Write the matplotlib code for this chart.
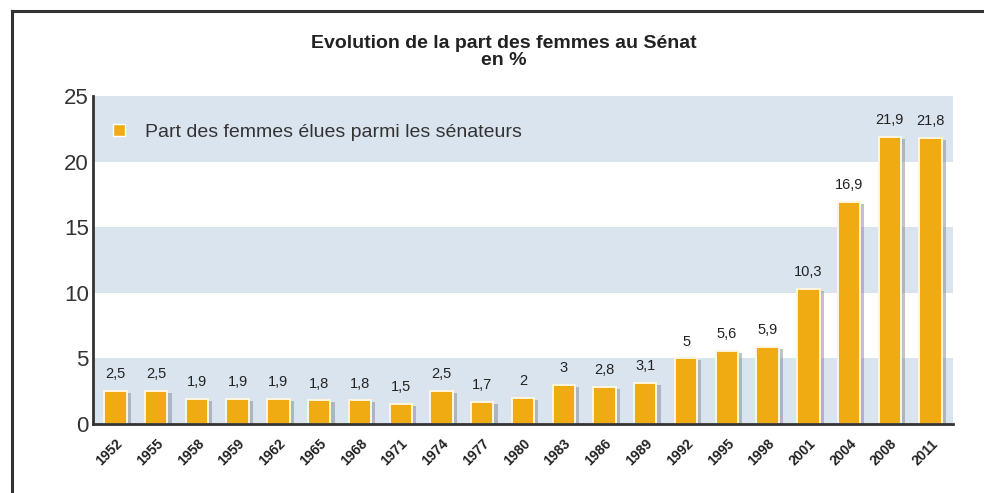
import matplotlib
matplotlib.use("Agg")
import matplotlib.pyplot as plt
import matplotlib.patheffects as pe
from matplotlib.lines import Line2D
import numpy as np

years = ["1952", "1955", "1958", "1959", "1962", "1965", "1968", "1971", "1974", "1977",
         "1980", "1983", "1986", "1989", "1992", "1995", "1998", "2001", "2004", "2008", "2011"]
values = [2.5, 2.5, 1.9, 1.9, 1.9, 1.8, 1.8, 1.5, 2.5, 1.7,
          2, 3, 2.8, 3.1, 5, 5.6, 5.9, 10.3, 16.9, 21.9, 21.8]
labels = ["2,5", "2,5", "1,9", "1,9", "1,9", "1,8", "1,8", "1,5", "2,5", "1,7",
          "2", "3", "2,8", "3,1", "5", "5,6", "5,9", "10,3", "16,9", "21,9", "21,8"]
yticks = [0, 5, 10, 15, 20, 25]
bands = [(0, 5), (10, 15), (20, 25)]

title = "Evolution de la part des femmes au Sénat\nen %"
legend_label = "Part des femmes élues parmi les sénateurs"

plt.rcParams['font.family'] = ['Liberation Sans', 'DejaVu Sans']

fig = plt.figure(figsize=(9.84, 4.93), dpi=100)
ax = fig.add_axes([93/984, 1 - 424/493, (953 - 93)/984, (424 - 96)/493])

bar_color = "#f0aa12"
band_color = "#d9e4ef"

for lo, hi in bands:
    ax.axhspan(lo, hi, color=band_color, zorder=0, lw=0)

x = np.arange(len(years))
bars = ax.bar(x, values, width=0.55, color=bar_color, edgecolor="#fff6e0", linewidth=1.4, zorder=3)
for b in bars:
    b.set_path_effects([pe.SimplePatchShadow(offset=(3, -1.5), shadow_rgbFace="#7f8a96", alpha=0.5),
                        pe.Normal()])

for xi, v, lab in zip(x, values, labels):
    ax.text(xi, v + 0.75, lab, ha="center", va="bottom", fontsize=10.5, color="#222222", zorder=4)

ax.set_xlim(-0.55, 20.55)
ax.set_ylim(0, 25)
ax.set_yticks(yticks)
ax.set_yticklabels([str(t) for t in yticks], fontsize=16, color="#333333")
ax.tick_params(axis="y", length=0, pad=3)
ax.set_xticks(x)
ax.set_xticklabels(years, rotation=45, ha="right", rotation_mode="anchor",
                   fontsize=10, fontweight="bold", color="#222222")
ax.tick_params(axis="x", length=0, pad=9)

for s in ["top", "right"]:
    ax.spines[s].set_visible(False)
ax.spines["left"].set_color("#333333")
ax.spines["left"].set_linewidth(2)
ax.spines["bottom"].set_color("#333333")
ax.spines["bottom"].set_linewidth(2)
ax.spines["left"].set_zorder(5)
ax.spines["bottom"].set_zorder(5)

handle = Line2D([0], [0], marker="s", linestyle="none", markersize=9,
                markerfacecolor=bar_color, markeredgecolor="white", markeredgewidth=1)
leg = ax.legend([handle], [legend_label], loc="upper left", bbox_to_anchor=(-0.019, 0.987),
                frameon=False, fontsize=14, handletextpad=0.3, borderaxespad=0.8)
for t in leg.get_texts():
    t.set_color("#333333")

fig.text(504/984, 1 - 52/493, title, ha="center", va="center", fontsize=14,
         fontweight="bold", color="#222222", linespacing=1.0)

# outer frame: top and left lines
fig.add_artist(Line2D([11.5/984, 1.0], [1 - 11/493, 1 - 11/493], color="#333333", lw=2.2,
                      transform=fig.transFigure))
fig.add_artist(Line2D([11.5/984, 11.5/984], [0, 1 - 11/493], color="#333333", lw=2.2,
                      transform=fig.transFigure))

fig.savefig("out.png", dpi=100, facecolor="white")
